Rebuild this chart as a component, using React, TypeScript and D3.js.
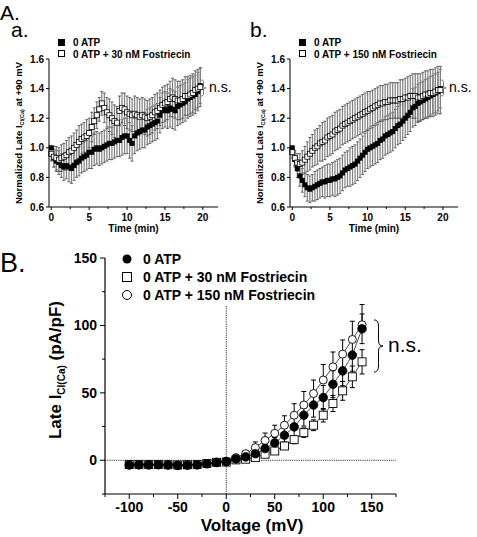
import React from "react";
import * as d3 from "d3";

// ---- Panel A time courses (sampled every 1/3 min) ----
const TIMES = d3.range(60).map((i) => i / 3);

const aFilled = [1.0,0.93,0.91,0.9,0.88,0.87,0.88,0.87,0.86,0.88,0.9,0.91,0.93,0.94,0.95,0.97,0.97,0.99,1.0,0.99,1.0,1.01,1.02,1.03,1.03,1.04,1.05,1.05,1.07,1.08,1.08,1.05,1.03,1.08,1.1,1.11,1.12,1.12,1.14,1.15,1.16,1.17,1.18,1.22,1.25,1.26,1.25,1.27,1.26,1.25,1.28,1.29,1.3,1.31,1.33,1.34,1.35,1.36,1.38,1.42];
const aFilledErr = [0,0.06,0.07,0.08,0.08,0.09,0.09,0.1,0.1,0.1,0.1,0.1,0.1,0.1,0.1,0.11,0.11,0.11,0.11,0.11,0.11,0.11,0.11,0.11,0.11,0.11,0.11,0.11,0.12,0.12,0.12,0.12,0.12,0.12,0.12,0.12,0.12,0.12,0.12,0.12,0.12,0.12,0.12,0.12,0.12,0.12,0.12,0.13,0.13,0.13,0.13,0.13,0.13,0.13,0.13,0.13,0.13,0.13,0.13,0.12];
const aOpen = [0.96,0.94,0.93,0.92,0.93,0.94,0.95,0.97,0.98,1.0,1.02,1.04,1.06,1.07,1.08,1.1,1.14,1.18,1.22,1.26,1.3,1.27,1.24,1.22,1.2,1.18,1.17,1.25,1.27,1.26,1.24,1.23,1.22,1.23,1.22,1.21,1.22,1.21,1.2,1.21,1.22,1.24,1.25,1.27,1.29,1.3,1.31,1.33,1.34,1.33,1.32,1.32,1.33,1.35,1.35,1.36,1.37,1.39,1.4,1.41];
const aOpenErr = [0.05,0.07,0.08,0.08,0.09,0.09,0.1,0.1,0.1,0.1,0.1,0.11,0.1,0.1,0.11,0.1,0.1,0.09,0.09,0.08,0.08,0.1,0.1,0.11,0.11,0.11,0.11,0.1,0.1,0.11,0.11,0.11,0.11,0.12,0.12,0.12,0.12,0.12,0.12,0.12,0.12,0.12,0.12,0.12,0.12,0.12,0.12,0.12,0.13,0.13,0.13,0.13,0.13,0.13,0.13,0.13,0.13,0.13,0.13,0.13];

const bFilled = [1.0,0.92,0.86,0.81,0.78,0.75,0.73,0.72,0.73,0.74,0.75,0.76,0.77,0.77,0.78,0.78,0.79,0.79,0.8,0.81,0.83,0.85,0.86,0.87,0.88,0.89,0.91,0.93,0.95,0.97,0.99,1.0,1.01,1.02,1.03,1.05,1.06,1.08,1.09,1.1,1.11,1.13,1.15,1.16,1.18,1.2,1.22,1.24,1.27,1.28,1.3,1.31,1.32,1.33,1.34,1.35,1.36,1.37,1.38,1.4];
const bFilledErr = [0,0.05,0.06,0.07,0.08,0.08,0.09,0.09,0.09,0.1,0.1,0.1,0.1,0.11,0.11,0.11,0.11,0.12,0.12,0.12,0.12,0.12,0.12,0.13,0.13,0.13,0.13,0.13,0.13,0.13,0.13,0.13,0.13,0.13,0.13,0.13,0.13,0.13,0.13,0.13,0.13,0.13,0.13,0.13,0.13,0.13,0.13,0.13,0.13,0.13,0.13,0.13,0.13,0.13,0.13,0.13,0.13,0.13,0.13,0.13];
const bOpen = [0.97,0.93,0.9,0.89,0.9,0.92,0.94,0.96,0.98,1.0,1.01,1.03,1.04,1.05,1.07,1.08,1.09,1.11,1.12,1.13,1.15,1.16,1.17,1.18,1.19,1.2,1.21,1.22,1.23,1.24,1.25,1.26,1.27,1.28,1.29,1.3,1.3,1.31,1.31,1.32,1.32,1.32,1.32,1.33,1.33,1.34,1.34,1.35,1.35,1.35,1.34,1.34,1.35,1.36,1.36,1.37,1.37,1.38,1.39,1.39];
const bOpenErr = [0.04,0.05,0.06,0.07,0.08,0.09,0.1,0.11,0.11,0.12,0.12,0.12,0.13,0.13,0.13,0.13,0.13,0.13,0.13,0.13,0.13,0.13,0.13,0.13,0.13,0.13,0.13,0.13,0.13,0.13,0.13,0.12,0.12,0.12,0.12,0.12,0.12,0.12,0.12,0.12,0.12,0.12,0.12,0.13,0.13,0.13,0.14,0.14,0.15,0.15,0.16,0.16,0.16,0.16,0.16,0.16,0.16,0.16,0.16,0.16];

const timeTicks = [0, 5, 10, 15, 20];
const timeMinorTicks = [2.5, 7.5, 12.5, 17.5];
const normTicks = [0.6, 0.8, 1.0, 1.2, 1.4, 1.6];

// ---- Panel B I-V ----
const voltages = [-100,-90,-80,-70,-60,-50,-40,-30,-20,-10,0,10,20,30,40,50,60,70,80,90,100,110,120,130,140];
const ivFilled = [-3.5,-3.4,-3.4,-3.3,-3.5,-3.8,-3.6,-3.4,-2.6,-1.6,-1,1,2.5,4.9,8.7,12.9,18.6,24.8,33.4,41,46.5,56.4,66.3,78,97.5];
const ivFilledErr = [0.5,0.5,0.5,0.5,0.5,0.5,0.5,0.5,0.5,0.5,0.5,1,1.5,2,3,4,5,7,8,9,9,10,11,12,11];
const ivSquare = [-3.2,-3.1,-3.2,-3.1,-3.3,-3.5,-3.3,-3.1,-2.4,-1.5,-1.3,0.3,0.8,2,4.5,6.9,10.6,15.3,20.5,26,33.4,42.1,51.5,61.9,73];
const ivSquareErr = [0.5,0.5,0.5,0.5,0.5,0.5,0.5,0.5,0.5,0.5,0.5,0.5,1,1,1.5,2,2.5,3,3.5,4,5,6,7,8,9];
const ivOpen = [-3.3,-3.2,-3.3,-3.2,-3.4,-3.6,-3.4,-3.2,-2.5,-1.5,-0.8,2,4.9,9.4,14.7,20,26,33.4,41,49.5,59.5,69.3,78.7,89.6,100.5];
const ivOpenErr = [0.5,0.5,0.5,0.5,0.5,0.5,0.5,0.5,0.5,0.5,0.5,1,2,4.2,5.5,6,7,8.5,10,10,11.5,11,10.5,13.5,15];

const vTicks = [-100, -50, 0, 50, 100, 150];
const vMinorTicks = [-125, -75, -25, 25, 75, 125, 175];
const iTicks = [0, 50, 100, 150];
const iMinorTicks = [-25, 25, 75, 125];

const FONT = "'Liberation Sans', Arial, Helvetica, sans-serif";

function bracePath(x: number, y1: number, y2: number, w: number) {
  const h = y2 - y1;
  const m = (y1 + y2) / 2;
  const xm = x + w * 0.5;
  return `M${x},${y1} C${x + w * 0.45},${y1} ${xm},${y1 + h * 0.05} ${xm},${y1 + h * 0.18} L${xm},${m - h * 0.1} C${xm},${m - h * 0.03} ${x + w * 0.7},${m} ${x + w},${m} C${x + w * 0.7},${m} ${xm},${m + h * 0.03} ${xm},${m + h * 0.1} L${xm},${y2 - h * 0.18} C${xm},${y2 - h * 0.05} ${x + w * 0.45},${y2} ${x},${y2}`;
}

type PanelProps = {
  x0: number;
  x1: number;
  letter: string;
  letterX: number;
  yLabelX: number;
  legend2: string;
  filled: number[];
  filledErr: number[];
  open: number[];
  openErr: number[];
};

function TimePanel(p: PanelProps) {
  const x = d3.scaleLinear().domain([-0.3, 22]).range([p.x0, p.x1]);
  const y = d3.scaleLinear().domain([0.6, 1.6]).range([207, 59]);
  const yb = 207;
  const cap = 1.5;
  const sq = 5;
  const bars = (vals: number[], errs: number[], key: string) =>
    TIMES.map((t, i) => {
      const cx = x(t);
      const top = y(vals[i] + errs[i]);
      const bot = y(vals[i] - errs[i]);
      return (
        <g key={key + i}>
          <line x1={cx} x2={cx} y1={top} y2={bot} stroke="#808080" strokeWidth={1.2} />
          <line x1={cx - cap} x2={cx + cap} y1={top} y2={top} stroke="#444" strokeWidth={0.8} />
          <line x1={cx - cap} x2={cx + cap} y1={bot} y2={bot} stroke="#444" strokeWidth={0.8} />
        </g>
      );
    });
  const legX = p.x0 + 12;
  const nsX = p.x1 - 11;
  return (
    <g fontFamily={FONT}>
      <text x={p.letterX} y={37} fontSize={21}>{p.letter}</text>
      {/* legend */}
      <rect x={legX - 3} y={39} width={7} height={7} fill="#000" />
      <rect x={legX - 2.5} y={50.5} width={6} height={6} fill="#fff" stroke="#000" strokeWidth={1} />
      <text x={legX + 12} y={46} fontSize={10} fontWeight="bold">0 ATP</text>
      <text x={legX + 12} y={57.5} fontSize={10} fontWeight="bold">{p.legend2}</text>
      {/* error bars */}
      {bars(p.filled, p.filledErr, "fe")}
      {bars(p.open, p.openErr, "oe")}
      {/* markers */}
      {TIMES.map((t, i) => (
        <rect key={"f" + i} x={x(t) - sq / 2} y={y(p.filled[i]) - sq / 2} width={sq} height={sq} fill="#000" />
      ))}
      {TIMES.map((t, i) => (
        <rect key={"o" + i} x={x(t) - sq / 2} y={y(p.open[i]) - sq / 2} width={sq} height={sq} fill="#fff" stroke="#000" strokeWidth={0.8} />
      ))}
      {/* axes */}
      <line x1={p.x0} x2={p.x0} y1={y(1.6)} y2={yb} stroke="#000" strokeWidth={1} />
      <line x1={p.x0} x2={p.x1} y1={yb} y2={yb} stroke="#000" strokeWidth={1} />
      {normTicks.map((v) => (
        <g key={"yt" + v}>
          <line x1={p.x0 - 3} x2={p.x0} y1={y(v)} y2={y(v)} stroke="#000" />
          <text x={p.x0 - 5} y={y(v) + 3.5} fontSize={10} fontWeight="bold" textAnchor="end">{v.toFixed(1)}</text>
        </g>
      ))}
      {timeTicks.map((v) => (
        <g key={"xt" + v}>
          <line x1={x(v)} x2={x(v)} y1={yb} y2={yb + 3} stroke="#000" />
          <text x={x(v)} y={yb + 14} fontSize={10} fontWeight="bold" textAnchor="middle">{v}</text>
        </g>
      ))}
      {timeMinorTicks.map((v) => (
        <line key={"xm" + v} x1={x(v)} x2={x(v)} y1={yb} y2={yb + 2} stroke="#000" />
      ))}
      <text x={(p.x0 + p.x1) / 2} y={232} fontSize={10} fontWeight="bold" textAnchor="middle">Time (min)</text>
      <text transform={`translate(${p.yLabelX},133) rotate(-90)`} fontSize={9.5} fontWeight="bold" textAnchor="middle">
        Normalized Late I<tspan dy={2} fontSize={5.5}>Cl(Ca)</tspan><tspan dy={-2}> at +90 mV</tspan>
      </text>
      {/* n.s. */}
      <path d={bracePath(nsX - 6, 80, 96, 5)} fill="none" stroke="#555" strokeWidth={0.8} />
      <text x={nsX + 2} y={92} fontSize={14}>n.s.</text>
    </g>
  );
}

function IVPanel() {
  const x = d3.scaleLinear().domain([-125, 175]).range([105, 396]);
  const y = d3.scaleLinear().domain([-25, 150]).range([494, 258]);
  const line = d3.line<number>().x((_, i) => x(voltages[i])).y((d) => y(d));
  const r = 4;
  const errBars = (vals: number[], errs: number[], key: string, upOnly: boolean) =>
    voltages.map((v, i) => {
      if (errs[i] < 1) return null;
      const cx = x(v);
      const top = y(vals[i] + errs[i]);
      const bot = upOnly ? y(vals[i]) : y(vals[i] - errs[i]);
      return (
        <g key={key + i}>
          <line x1={cx} x2={cx} y1={top} y2={bot} stroke="#000" strokeWidth={1} />
          <line x1={cx - 2.5} x2={cx + 2.5} y1={top} y2={top} stroke="#000" strokeWidth={1} />
          {!upOnly && <line x1={cx - 2.5} x2={cx + 2.5} y1={bot} y2={bot} stroke="#000" strokeWidth={1} />}
        </g>
      );
    });
  return (
    <g fontFamily={FONT}>
      <text x={0} y={272} fontSize={27}>B.</text>
      {/* zero reference lines */}
      <line x1={x(0)} x2={x(0)} y1={306} y2={494} stroke="#000" strokeWidth={0.8} strokeDasharray="1.2,1" />
      <line x1={105} x2={396} y1={y(0)} y2={y(0)} stroke="#000" strokeWidth={0.8} strokeDasharray="1.2,1" />
      {/* axes */}
      <line x1={105} x2={105} y1={y(150)} y2={y(-25)} stroke="#000" strokeWidth={1.2} />
      <line x1={105} x2={396} y1={494} y2={494} stroke="#000" strokeWidth={1.2} />
      {iTicks.map((v) => (
        <g key={"it" + v}>
          <line x1={100} x2={105} y1={y(v)} y2={y(v)} stroke="#000" />
          <text x={97} y={y(v) + 5} fontSize={14} fontWeight="bold" textAnchor="end">{v}</text>
        </g>
      ))}
      {iMinorTicks.map((v) => (
        <line key={"im" + v} x1={102} x2={105} y1={y(v)} y2={y(v)} stroke="#000" />
      ))}
      {vTicks.map((v) => (
        <g key={"vt" + v}>
          <line x1={x(v)} x2={x(v)} y1={494} y2={499} stroke="#000" />
          <text x={x(v)} y={512} fontSize={14} fontWeight="bold" textAnchor="middle">{v}</text>
        </g>
      ))}
      {vMinorTicks.map((v) => (
        <line key={"vm" + v} x1={x(v)} x2={x(v)} y1={494} y2={497} stroke="#000" />
      ))}
      <text x={252} y={531} fontSize={17} fontWeight="bold" textAnchor="middle">Voltage (mV)</text>
      <text transform="translate(61,370) rotate(-90)" fontSize={17} fontWeight="bold" textAnchor="middle">
        Late I<tspan dy={4} fontSize={10}>Cl(Ca)</tspan><tspan dy={-4}> (pA/pF)</tspan>
      </text>
      {/* connecting lines */}
      <path d={line(ivSquare) || ""} fill="none" stroke="#000" strokeWidth={0.7} />
      <path d={line(ivFilled) || ""} fill="none" stroke="#000" strokeWidth={0.7} />
      <path d={line(ivOpen) || ""} fill="none" stroke="#000" strokeWidth={0.7} />
      {errBars(ivSquare, ivSquareErr, "se", false)}
      {errBars(ivOpen, ivOpenErr, "oe", true)}
      {errBars(ivFilled, ivFilledErr, "fe", false)}
      {voltages.map((v, i) => (
        <rect key={"s" + i} x={x(v) - 4} y={y(ivSquare[i]) - 4} width={8} height={8} fill="#fff" stroke="#000" strokeWidth={0.9} />
      ))}
      {voltages.map((v, i) => (
        <circle key={"o" + i} cx={x(v)} cy={y(ivOpen[i])} r={r} fill="#fff" stroke="#000" strokeWidth={0.9} />
      ))}
      {voltages.map((v, i) => (
        <circle key={"f" + i} cx={x(v)} cy={y(ivFilled[i])} r={r + 0.3} fill="#000" stroke="#000" strokeWidth={0.8} />
      ))}
      {/* legend */}
      <circle cx={127} cy={259} r={4.5} fill="#000" />
      <rect x={122.5} y={272.5} width={9} height={9} fill="#fff" stroke="#000" strokeWidth={1} />
      <circle cx={127} cy={295} r={4.5} fill="#fff" stroke="#000" strokeWidth={1} />
      <text x={143} y={264} fontSize={14} fontWeight="bold">0 ATP</text>
      <text x={143} y={282} fontSize={14} fontWeight="bold">0 ATP + 30 nM Fostriecin</text>
      <text x={143} y={300} fontSize={14} fontWeight="bold">0 ATP + 150 nM Fostriecin</text>
      {/* n.s. */}
      <path d={bracePath(374, 320, 372, 9)} fill="none" stroke="#000" strokeWidth={1} />
      <text x={388} y={352} fontSize={21}>n.s.</text>
    </g>
  );
}

export default function App() {
  return (
    <svg width={477} height={537} style={{ position: "absolute", left: 0, top: 0, background: "#fff" }}>
      <rect width={477} height={537} fill="#fff" />
      <text x={0} y={20} fontSize={21} fontFamily={FONT}>A.</text>
      <TimePanel x0={49} x1={218} letter="a." letterX={11} yLabelX={22} legend2="0 ATP + 30 nM Fostriecin"
        filled={aFilled} filledErr={aFilledErr} open={aOpen} openErr={aOpenErr} />
      <TimePanel x0={290} x1={458} letter="b." letterX={250} yLabelX={263} legend2="0 ATP + 150 nM Fostriecin"
        filled={bFilled} filledErr={bFilledErr} open={bOpen} openErr={bOpenErr} />
      <IVPanel />
    </svg>
  );
}
